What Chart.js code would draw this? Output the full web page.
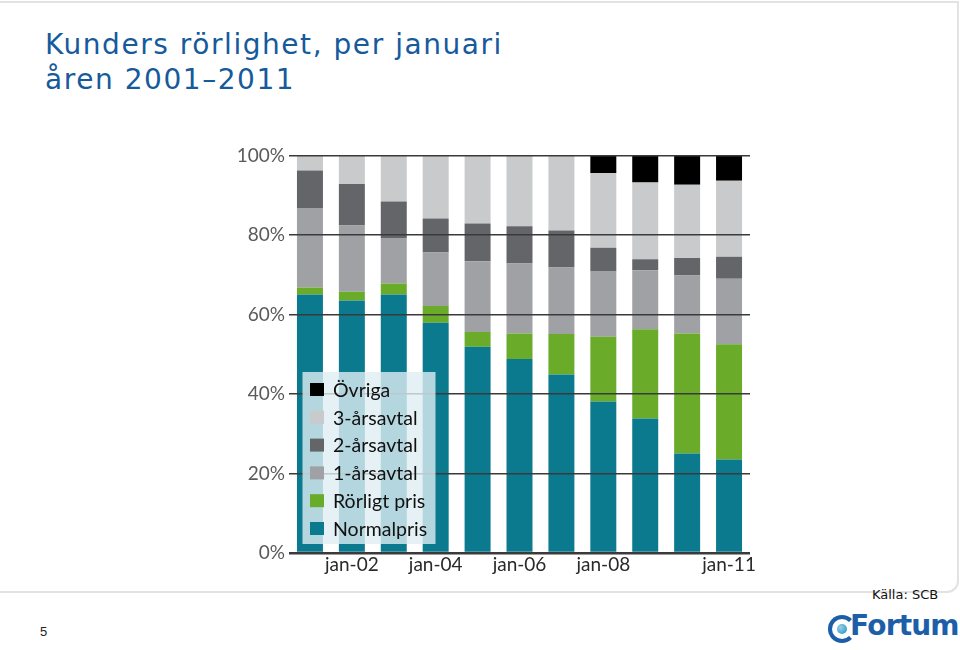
<!DOCTYPE html>
<html lang="sv">
<head>
<meta charset="utf-8">
<title>Kunders rörlighet</title>
<script src="https://cdn.jsdelivr.net/npm/chart.js@4.4.1/dist/chart.umd.min.js"></script>
<style>
  html, body { margin: 0; padding: 0; background: #fff; }
  body { width: 960px; height: 650px; position: relative; overflow: hidden; font-family: "DejaVu Sans", Verdana, sans-serif; }
  .frame { position: absolute; left: -10px; top: 1px; width: 965px; height: 588px; border: 2px solid #e2e2e2; border-radius: 0 0 12px 0; }
  .title { position: absolute; left: 45px; top: 27px; margin: 0; font-size: 28px; font-weight: normal; line-height: 35px; letter-spacing: 1.55px; color: #165a9c; }
  .chart-box { position: absolute; left: 230px; top: 140px; width: 540px; height: 450px; }
  .source { position: absolute; left: 872px; top: 587px; font-size: 13px; color: #111; }
  .page { position: absolute; left: 40px; top: 624px; font: 13px "Liberation Sans", Arial, sans-serif; color: #222; }
  .logo { position: absolute; left: 828px; top: 612px; height: 36px; }
  .logo .mark { position: absolute; left: 0; top: 3px; width: 20px; height: 20px; border: 4px solid #1d5ea8; border-right-color: transparent; border-radius: 50%; }
  .logo .mark::after { content: ""; position: absolute; left: 5px; top: 5px; width: 10px; height: 10px; border-radius: 50%; background: radial-gradient(circle at 35% 35%, #9ad0e6, #1b8fbf); }
  .logo .word { position: absolute; left: 22px; top: -3px; font-size: 28px; font-weight: bold; color: #1d5ea8; letter-spacing: -0.8px; white-space: nowrap; }
</style>
</head>
<body>
<div class="frame"></div>
<h1 class="title">Kunders rörlighet, per januari<br>åren 2001–2011</h1>
<div class="chart-box"><canvas id="chart"></canvas></div>
<div class="source">Källa: SCB</div>
<div class="page">5</div>
<div class="logo"><div class="mark"></div><div class="word">Fortum</div></div>

<script>
// andelar i procent, januari 2001–2011
const categories = ["jan-01", "jan-02", "jan-03", "jan-04", "jan-05", "jan-06", "jan-07", "jan-08", "jan-09", "jan-10", "jan-11"];
const xTickLabels = ["", "jan-02", "", "jan-04", "", "jan-06", "", "jan-08", "", "", "jan-11"];
const yTickStep = 20;

const normalpris = [65.0, 63.5, 65.0, 57.9, 51.9, 48.8, 44.9, 38.1, 33.8, 25.0, 23.5];
const rorligtPris = [1.8, 2.2, 2.8, 4.2, 3.7, 6.4, 10.2, 16.3, 22.5, 30.2, 29.0];
const ettArsavtal = [20.0, 16.7, 11.4, 13.5, 17.8, 17.6, 16.7, 16.5, 14.8, 14.6, 16.5];
const tvaArsavtal = [9.4, 10.4, 9.2, 8.5, 9.5, 9.4, 9.3, 5.9, 2.8, 4.4, 5.5];
const treArsavtal = [3.8, 7.2, 11.6, 15.9, 17.1, 17.8, 18.9, 18.8, 19.3, 18.4, 19.1];
const ovriga = [0, 0, 0, 0, 0, 0, 0, 4.4, 6.8, 7.4, 6.4];

const tickFont = { family: "Lato, 'Open Sans', sans-serif", size: 19 };

// legend drawn inside the plot, on top of bars and grid
const insideLegend = {
  id: "insideLegend",
  afterDraw(chart) {
    const { ctx, chartArea } = chart;
    const items = chart.data.datasets.slice().reverse();
    const rowH = 27.8;
    const boxW = 133;
    const boxH = 172;
    const x0 = chartArea.left + 13.5;
    const y0 = chartArea.bottom - 9 - boxH;
    ctx.save();
    ctx.fillStyle = "rgba(222, 238, 243, 0.8)";
    ctx.fillRect(x0, y0, boxW, boxH);
    ctx.font = "19.5px Lato, 'Open Sans', sans-serif";
    ctx.textBaseline = "middle";
    items.forEach((ds, i) => {
      const cy = y0 + 17.5 + i * rowH;
      ctx.fillStyle = ds.backgroundColor;
      ctx.fillRect(x0 + 7.5, cy - 6.5, 14, 13);
      ctx.fillStyle = "#111";
      ctx.fillText(ds.label, x0 + 30.5, cy + 1);
    });
    ctx.restore();
  },
};

function dataset(label, data, color) {
  return {
    label,
    data,
    backgroundColor: color,
    borderWidth: 0,
    barPercentage: 0.62,
    categoryPercentage: 1,
  };
}

new Chart(document.getElementById("chart"), {
  type: "bar",
  data: {
    labels: categories,
    datasets: [
      dataset("Normalpris", normalpris, "#0b7a8f"),
      dataset("Rörligt pris", rorligtPris, "#6aac2a"),
      dataset("1-årsavtal", ettArsavtal, "#a0a1a4"),
      dataset("2-årsavtal", tvaArsavtal, "#646569"),
      dataset("3-årsavtal", treArsavtal, "#c9cacc"),
      dataset("Övriga", ovriga, "#000000"),
    ],
  },
  options: {
    responsive: true,
    maintainAspectRatio: false,
    animation: false,
    layout: { padding: { top: 15, right: 20, left: 0, bottom: 0 } },
    plugins: {
      legend: { display: false },
      tooltip: { enabled: false },
    },
    scales: {
      x: {
        stacked: true,
        afterFit: (scale) => { scale.height = 37; },
        grid: { display: false, drawTicks: false },
        border: { display: false },
        ticks: {
          autoSkip: false,
          maxRotation: 0,
          padding: 0,
          color: "#2a2a2a",
          font: tickFont,
          callback: (value, index) => xTickLabels[index],
        },
      },
      y: {
        stacked: true,
        min: 0,
        max: 100,
        afterFit: (scale) => { scale.width = 59; },
        grid: {
          z: 1,
          drawTicks: false,
          color: "#3a3a3a",
          lineWidth: (ctx) => (ctx.tick && ctx.tick.value === 0 ? 2.5 : 1.4),
        },
        border: { display: false },
        ticks: {
          stepSize: yTickStep,
          padding: 4,
          color: "#5a5a5a",
          font: tickFont,
          callback: (value) => value + "%",
        },
      },
    },
  },
  plugins: [insideLegend],
});
</script>
</body>
</html>
